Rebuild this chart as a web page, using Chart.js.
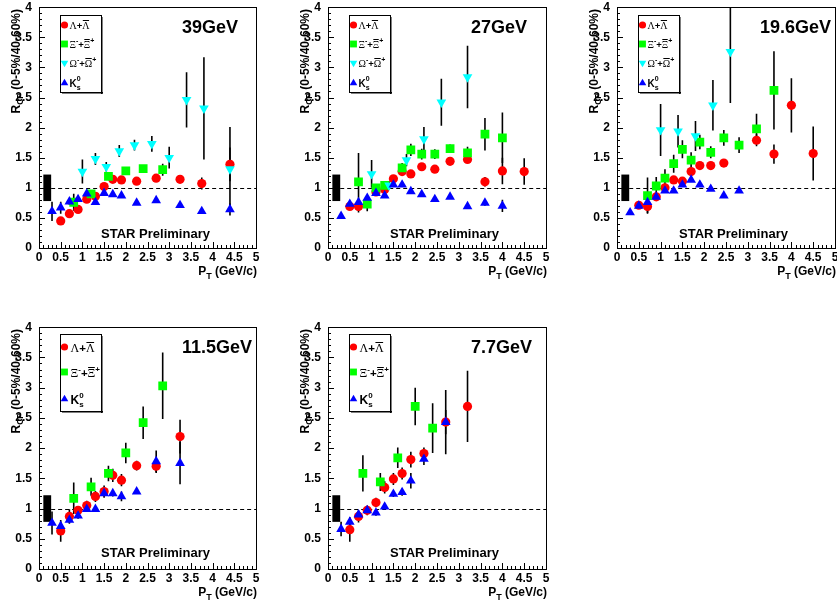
<!DOCTYPE html>
<html>
<head>
<meta charset="utf-8">
<script src="https://cdn.jsdelivr.net/npm/chart.js@4.4.1/dist/chart.umd.min.js"></script>
<style>
html, body { margin: 0; padding: 0; background: #fff; width: 837px; height: 605px; overflow: hidden; }
canvas { position: absolute; }
</style>
</head>
<body>
<canvas id="c39"></canvas>
<canvas id="c27"></canvas>
<canvas id="c196"></canvas>
<canvas id="c115"></canvas>
<canvas id="c77"></canvas>
<script>
// ---- values ----
const energyLabels = ['39GeV', '27GeV', '19.6GeV', '11.5GeV', '7.7GeV'];
const sysBoxPt = [0.1, 0.28];
const sysBoxRcp = [0.78, 1.22];
const unityPt = [0.28, 5];
const unityRcp = 1;

// 39 GeV
const pt39Lam = [0.5, 0.7, 0.9, 1.1, 1.3, 1.5, 1.7, 1.9, 2.25, 2.7, 3.25, 3.75, 4.4];
const rcp39Lam = [0.45, 0.57, 0.64, 0.81, 0.86, 1.02, 1.14, 1.13, 1.11, 1.16, 1.14, 1.07, 1.39];
const err39Lam = [0.05, 0.04, 0.03, 0.03, 0.04, 0.04, 0.04, 0.04, 0.03, 0.05, 0.05, 0.1, 0.28];
const pt39Xi = [0.8, 1.2, 1.6, 2.0, 2.4, 2.85];
const rcp39Xi = [0.76, 0.90, 1.19, 1.28, 1.32, 1.30];
const err39Xi = [0.14, 0.06, 0.06, 0.05, 0.06, 0.1];
const pt39Om = [1.0, 1.3, 1.55, 1.85, 2.2, 2.6, 3.0, 3.4, 3.8, 4.4];
const rcp39Om = [1.27, 1.48, 1.35, 1.61, 1.71, 1.73, 1.50, 2.46, 2.32, 1.31];
const err39Om = [0.2, 0.1, 0.08, 0.1, 0.09, 0.13, 0.18, 0.46, 0.85, 0.7];
const pt39K0 = [0.3, 0.5, 0.7, 0.9, 1.1, 1.3, 1.5, 1.7, 1.9, 2.25, 2.7, 3.25, 3.75, 4.4];
const rcp39K0 = [0.61, 0.67, 0.77, 0.81, 0.90, 0.76, 0.91, 0.89, 0.87, 0.75, 0.79, 0.71, 0.61, 0.64];
const err39K0 = [0.16, 0.1, 0.05, 0.04, 0.03, 0.03, 0.03, 0.03, 0.03, 0.03, 0.03, 0.03, 0.03, 0.1];

// 27 GeV
const pt27Lam = [0.5, 0.7, 1.1, 1.3, 1.5, 1.7, 1.9, 2.15, 2.45, 2.8, 3.2, 3.6, 4.0, 4.5];
const rcp27Lam = [0.69, 0.69, 0.93, 0.97, 1.15, 1.27, 1.23, 1.35, 1.31, 1.44, 1.47, 1.10, 1.28, 1.27];
const err27Lam = [0.04, 0.1, 0.04, 0.05, 0.04, 0.05, 0.04, 0.04, 0.04, 0.04, 0.05, 0.08, 0.22, 0.22];
const pt27Xi = [0.7, 0.9, 1.1, 1.3, 1.7, 1.9, 2.15, 2.45, 2.8, 3.2, 3.6, 4.0];
const rcp27Xi = [1.10, 0.73, 1.00, 1.04, 1.33, 1.63, 1.56, 1.56, 1.65, 1.58, 1.89, 1.83];
const err27Xi = [0.48, 0.12, 0.06, 0.07, 0.08, 0.1, 0.09, 0.08, 0.07, 0.1, 0.27, 0.42];
const pt27Om = [1.0, 1.4, 1.8, 2.2, 2.6, 3.2];
const rcp27Om = [1.23, 1.04, 1.46, 1.81, 2.42, 2.84];
const err27Om = [0.23, 0.07, 0.1, 0.2, 0.39, 0.52];
const pt27K0 = [0.3, 0.5, 0.7, 0.9, 1.1, 1.3, 1.5, 1.7, 1.9, 2.15, 2.45, 2.8, 3.2, 3.6, 4.0];
const rcp27K0 = [0.53, 0.73, 0.76, 0.83, 0.91, 0.87, 1.05, 1.05, 0.94, 0.89, 0.81, 0.85, 0.69, 0.75, 0.70];
const err27K0 = [0.03, 0.03, 0.03, 0.03, 0.03, 0.03, 0.03, 0.03, 0.03, 0.03, 0.03, 0.03, 0.03, 0.05, 0.1];

// 19.6 GeV
const pt196Lam = [0.5, 0.7, 0.9, 1.1, 1.3, 1.5, 1.7, 1.9, 2.15, 2.45, 3.2, 3.6, 4.0, 4.5];
const rcp196Lam = [0.71, 0.69, 0.85, 1.00, 1.13, 1.11, 1.27, 1.37, 1.37, 1.41, 1.79, 1.56, 2.37, 1.57];
const err196Lam = [0.04, 0.11, 0.04, 0.04, 0.04, 0.04, 0.05, 0.05, 0.05, 0.05, 0.1, 0.16, 0.45, 0.45];
const pt196Xi = [0.7, 0.9, 1.1, 1.3, 1.5, 1.7, 1.9, 2.15, 2.45, 2.8, 3.2, 3.6];
const rcp196Xi = [0.87, 1.03, 1.16, 1.40, 1.64, 1.46, 1.76, 1.59, 1.83, 1.71, 1.98, 2.62];
const err196Xi = [0.3, 0.15, 0.15, 0.15, 0.15, 0.13, 0.12, 0.1, 0.13, 0.13, 0.25, 0.65];
const pt196Om = [1.0, 1.4, 1.8, 2.2, 2.6];
const rcp196Om = [1.96, 1.94, 1.86, 2.37, 3.26];
const err196Om = [0.43, 0.27, 0.25, 0.42, 0.85];
const pt196K0 = [0.3, 0.5, 0.7, 0.9, 1.1, 1.3, 1.5, 1.7, 1.9, 2.15, 2.45, 2.8];
const rcp196K0 = [0.59, 0.70, 0.76, 0.85, 0.95, 0.95, 1.05, 1.13, 1.05, 0.98, 0.87, 0.95];
const err196K0 = [0.03, 0.03, 0.03, 0.03, 0.03, 0.03, 0.03, 0.03, 0.03, 0.03, 0.03, 0.03];

// 11.5 GeV
const pt115Lam = [0.5, 0.7, 0.9, 1.1, 1.3, 1.5, 1.7, 1.9, 2.25, 2.7, 3.25];
const rcp115Lam = [0.63, 0.87, 0.97, 1.05, 1.20, 1.28, 1.55, 1.47, 1.71, 1.70, 2.19];
const err115Lam = [0.18, 0.12, 0.07, 0.08, 0.09, 0.1, 0.11, 0.1, 0.08, 0.11, 0.28];
const pt115Xi = [0.8, 1.2, 1.6, 2.0, 2.4, 2.85];
const rcp115Xi = [1.17, 1.36, 1.58, 1.92, 2.42, 3.03];
const err115Xi = [0.26, 0.15, 0.13, 0.17, 0.27, 0.55];
const pt115K0 = [0.3, 0.5, 0.7, 0.9, 1.1, 1.3, 1.5, 1.7, 1.9, 2.25, 2.7, 3.25];
const rcp115K0 = [0.76, 0.71, 0.81, 0.88, 0.99, 0.99, 1.25, 1.25, 1.20, 1.28, 1.78, 1.75];
const err115K0 = [0.19, 0.06, 0.05, 0.05, 0.04, 0.04, 0.05, 0.05, 0.08, 0.04, 0.18, 0.35];

// 7.7 GeV
const pt77Lam = [0.5, 0.7, 0.9, 1.1, 1.3, 1.5, 1.7, 1.9, 2.2, 2.7, 3.2];
const rcp77Lam = [0.65, 0.87, 0.97, 1.10, 1.35, 1.49, 1.58, 1.81, 1.91, 2.43, 2.69];
const err77Lam = [0.2, 0.1, 0.08, 0.08, 0.1, 0.1, 0.1, 0.13, 0.1, 0.2, 0.59];
const pt77Xi = [0.8, 1.2, 1.6, 2.0, 2.4];
const rcp77Xi = [1.58, 1.44, 1.84, 2.69, 2.33];
const err77Xi = [0.3, 0.15, 0.17, 0.31, 0.41];
const pt77K0 = [0.3, 0.5, 0.7, 0.9, 1.1, 1.3, 1.5, 1.7, 1.9, 2.2, 2.7];
const rcp77K0 = [0.66, 0.78, 0.90, 0.97, 0.93, 1.03, 1.24, 1.27, 1.46, 1.82, 2.43];
const err77K0 = [0.12, 0.07, 0.06, 0.06, 0.05, 0.05, 0.05, 0.06, 0.13, 0.1, 0.53];

// ---- styling / layout ----
const SANS = '"Liberation Sans", Arial, Helvetica, sans-serif';
const SERIF = '"Liberation Serif", "Times New Roman", serif';

const species = {
    lam: { color: '#ff0000', style: 'circle', radius: 4.6, rotation: 0, order: 4 },
    xi: { color: '#00ff00', style: 'rect', radius: 6.2, rotation: 0, order: 3 },
    om: { color: '#00ffff', style: 'triangle', radius: 5.6, rotation: 180, order: 2 },
    k0: { color: '#0000ff', style: 'triangle', radius: 5.6, rotation: 0, order: 1 },
};

const panels = [
    { id: 'c39', label: energyLabels[0], left: 39, top: 3, w: 217, h: 245, starDy: 10,
      series: [['lam', pt39Lam, rcp39Lam, err39Lam], ['xi', pt39Xi, rcp39Xi, err39Xi], ['om', pt39Om, rcp39Om, err39Om], ['k0', pt39K0, rcp39K0, err39K0]] },
    { id: 'c27', label: energyLabels[1], left: 328, top: 3, w: 218, h: 245, starDy: 10,
      series: [['lam', pt27Lam, rcp27Lam, err27Lam], ['xi', pt27Xi, rcp27Xi, err27Xi], ['om', pt27Om, rcp27Om, err27Om], ['k0', pt27K0, rcp27K0, err27K0]] },
    { id: 'c196', label: energyLabels[2], left: 617, top: 3, w: 218, h: 245, starDy: 10,
      series: [['lam', pt196Lam, rcp196Lam, err196Lam], ['xi', pt196Xi, rcp196Xi, err196Xi], ['om', pt196Om, rcp196Om, err196Om], ['k0', pt196K0, rcp196K0, err196K0]] },
    { id: 'c115', label: energyLabels[3], left: 39, top: 323, w: 217, h: 246, starDy: 12,
      series: [['lam', pt115Lam, rcp115Lam, err115Lam], ['xi', pt115Xi, rcp115Xi, err115Xi], ['k0', pt115K0, rcp115K0, err115K0]] },
    { id: 'c77', label: energyLabels[4], left: 328, top: 323, w: 218, h: 246, starDy: 12,
      series: [['lam', pt77Lam, rcp77Lam, err77Lam], ['xi', pt77Xi, rcp77Xi, err77Xi], ['k0', pt77K0, rcp77K0, err77K0]] },
];
const panelById = {};
panels.forEach(p => { panelById[p.id] = p; });

const PAD_L = 39, PAD_T = 10, PAD_R = 8, PAD_B = 45;

// draws a row of text pieces (sub/superscripts, overlines)
function drawRich(ctx, x, y, parts, align) {
    let total = 0;
    parts.forEach(p => {
        ctx.font = p.f;
        p.w = ctx.measureText(p.t).width;
        if (!p.back) total += p.w;
    });
    let cx = align === 'right' ? x - total : x;
    let prev = cx;
    parts.forEach(p => {
        ctx.font = p.f;
        const sx = p.back ? prev : cx;
        ctx.fillText(p.t, sx, y + (p.dy || 0));
        if (p.bar) ctx.fillRect(sx + 0.5, y + p.bar, p.w - 1, 1);
        if (!p.back) { prev = cx; cx += p.w; }
    });
}

// legend labels; g = greek size, s = script size, k = K size
function legendText(kind, g, s, k) {
    const greek = g + 'px ' + SERIF, plus = 'bold ' + (g - 0.5) + 'px ' + SANS, scr = 'bold ' + s + 'px ' + SANS;
    const bar = -Math.round(g * 0.85);
    const up = -Math.round(g * 0.45);
    if (kind === 'lam') return [{ t: 'Λ', f: greek }, { t: '+', f: plus }, { t: 'Λ', f: greek, bar }];
    if (kind === 'xi') return [{ t: 'Ξ', f: greek }, { t: '-', f: scr, dy: up }, { t: '+', f: plus },
                               { t: 'Ξ', f: greek, bar }, { t: '+', f: scr, dy: up }];
    if (kind === 'om') return [{ t: 'Ω', f: greek }, { t: '-', f: scr, dy: up }, { t: '+', f: plus },
                               { t: 'Ω', f: greek, bar }, { t: '+', f: scr, dy: up }];
    return [{ t: 'K', f: 'bold ' + k + 'px ' + SANS }, { t: '0', f: scr, dy: up - 1 }, { t: 's', f: scr, dy: 3, back: true }];
}

const rcpDecor = {
    id: 'rcpDecor',
    beforeDatasetsDraw(chart) {
        const { ctx, chartArea: a, scales: { x, y } } = chart;
        ctx.save();
        // systematic box
        ctx.fillStyle = '#000';
        const bx1 = x.getPixelForValue(sysBoxPt[0]), bx2 = x.getPixelForValue(sysBoxPt[1]);
        const by1 = y.getPixelForValue(sysBoxRcp[1]), by2 = y.getPixelForValue(sysBoxRcp[0]);
        ctx.fillRect(bx1, by1, bx2 - bx1, by2 - by1);
        // dashed unity line
        ctx.strokeStyle = '#000';
        ctx.lineWidth = 1;
        ctx.setLineDash([4, 3]);
        const ly = Math.round(y.getPixelForValue(unityRcp)) + 0.5;
        ctx.beginPath();
        ctx.moveTo(x.getPixelForValue(unityPt[0]), ly);
        ctx.lineTo(x.getPixelForValue(unityPt[1]), ly);
        ctx.stroke();
        ctx.setLineDash([]);
        // error bars
        ctx.beginPath();
        ctx.rect(a.left, a.top, a.right - a.left, a.bottom - a.top);
        ctx.clip();
        ctx.lineWidth = 1.6;
        chart.data.datasets.forEach(ds => {
            ctx.beginPath();
            ds.data.forEach(pt => {
                const px = x.getPixelForValue(pt.x);
                ctx.moveTo(px, y.getPixelForValue(pt.y - pt.e));
                ctx.lineTo(px, y.getPixelForValue(pt.y + pt.e));
            });
            ctx.stroke();
        });
        ctx.restore();
    },
    afterDatasetsDraw(chart) {
        const { ctx, chartArea: a, scales: { x, y } } = chart;
        const p = panelById[chart.canvas.id];
        const L = Math.round(a.left), T = Math.round(a.top), R = Math.round(a.right), B = Math.round(a.bottom);
        ctx.save();
        ctx.strokeStyle = '#000';
        ctx.fillStyle = '#000';
        ctx.lineWidth = 1;
        ctx.strokeRect(L + 0.5, T + 0.5, R - L, B - T);

        // ROOT-like inward ticks
        ctx.beginPath();
        for (let i = 0; i <= 50; i++) {
            const px = Math.round(x.getPixelForValue(i / 10)) + 0.5;
            ctx.moveTo(px, B);
            ctx.lineTo(px, B - (i % 5 === 0 ? 6 : 3));
        }
        for (let i = 0; i <= 40; i++) {
            const py = Math.round(y.getPixelForValue(i / 10)) + 0.5;
            ctx.moveTo(L, py);
            ctx.lineTo(L + (i % 5 === 0 ? 6 : 3), py);
        }
        ctx.stroke();

        // legend
        const kinds = p.series.map(s => s[0]);
        const four = kinds.length === 4;
        const bx = L + 21, by = T + (four ? 8 : 7), bw = 41, bh = 77;
        ctx.fillStyle = '#fff';
        ctx.fillRect(bx, by, bw, bh);
        ctx.fillStyle = '#000';
        ctx.fillRect(bx + 2, by + bh, bw, 1.5);
        ctx.fillRect(bx + bw, by + 2, 1.5, bh);
        ctx.strokeRect(bx + 0.5, by + 0.5, bw, bh);
        const rowY = four ? [18, 37, 56, 76] : [20, 45, 72];
        kinds.forEach((k, i) => {
            const s = species[k];
            const cy = T + rowY[i];
            const mx = L + 25.5;
            ctx.fillStyle = s.color;
            Chart.helpers.drawPoint(ctx, { pointStyle: s.style, radius: s.radius * 0.78, rotation: s.rotation, borderWidth: 0 }, mx, cy);
            ctx.fillStyle = '#000';
            ctx.textAlign = 'left';
            ctx.textBaseline = 'alphabetic';
            const parts = four ? legendText(k, 10, 7, 10) : legendText(k, 12, 8, 12);
            drawRich(ctx, mx + (four ? 5 : 6), cy + (four ? 4 : 5), parts);
        });

        // energy label
        ctx.fillStyle = '#000';
        ctx.textAlign = 'left';
        ctx.textBaseline = 'alphabetic';
        ctx.font = 'bold 18px ' + SANS;
        ctx.fillText(p.label, L + 143, T + 26);

        // STAR Preliminary
        ctx.textAlign = 'center';
        ctx.font = 'bold 13px ' + SANS;
        ctx.fillText('STAR Preliminary', L + 116.5, B - p.starDy);

        // x axis title
        ctx.textAlign = 'left';
        drawRich(ctx, R + 1, B + 27, [
            { t: 'P', f: 'bold 12px ' + SANS },
            { t: 'T', f: 'bold 9px ' + SANS, dy: 4 },
            { t: ' (GeV/c)', f: 'bold 12px ' + SANS },
        ], 'right');

        // y axis title
        ctx.translate(L - 19, T + 2);
        ctx.rotate(-Math.PI / 2);
        drawRich(ctx, 0, 0, [
            { t: 'R', f: 'bold 12px ' + SANS },
            { t: 'CP', f: 'bold 8.5px ' + SANS, dy: 3 },
            { t: ' (0-5%/40-60%)', f: 'bold 12px ' + SANS },
        ], 'right');
        ctx.restore();
    },
};

Chart.defaults.font.family = SANS;
Chart.defaults.color = '#000';

panels.forEach(p => {
    const canvas = document.getElementById(p.id);
    canvas.width = PAD_L + p.w + PAD_R;
    canvas.height = PAD_T + p.h + PAD_B;
    canvas.style.left = (p.left - PAD_L) + 'px';
    canvas.style.top = (p.top - PAD_T) + 'px';

    const datasets = p.series.map(([kind, xs, ys, es]) => {
        const s = species[kind];
        return {
            label: kind,
            data: xs.map((v, i) => ({ x: v, y: ys[i], e: es[i] })),
            pointStyle: s.style,
            pointRadius: s.radius,
            pointRotation: s.rotation,
            backgroundColor: s.color,
            borderColor: s.color,
            borderWidth: 0,
            order: s.order,
        };
    });

    new Chart(canvas, {
        type: 'scatter',
        data: { datasets },
        options: {
            responsive: false,
            animation: false,
            events: [],
            layout: { padding: { left: 0, top: PAD_T, right: PAD_R, bottom: 0 } },
            plugins: { legend: { display: false }, tooltip: { enabled: false } },
            scales: {
                x: {
                    type: 'linear', min: 0, max: 5,
                    grid: { display: false, drawTicks: false },
                    border: { display: false },
                    ticks: { stepSize: 0.5, autoSkip: false, maxRotation: 0, padding: 2,
                             font: { size: 12, weight: 'bold' }, callback: v => String(v) },
                    afterFit: s => { s.height = PAD_B; },
                },
                y: {
                    type: 'linear', min: 0, max: 4,
                    grid: { display: false, drawTicks: false },
                    border: { display: false },
                    ticks: { stepSize: 0.5, autoSkip: false, padding: 7,
                             font: { size: 12, weight: 'bold' }, callback: v => String(v) },
                    afterFit: s => { s.width = PAD_L; },
                },
            },
        },
        plugins: [rcpDecor],
    });
});
</script>
</body>
</html>
